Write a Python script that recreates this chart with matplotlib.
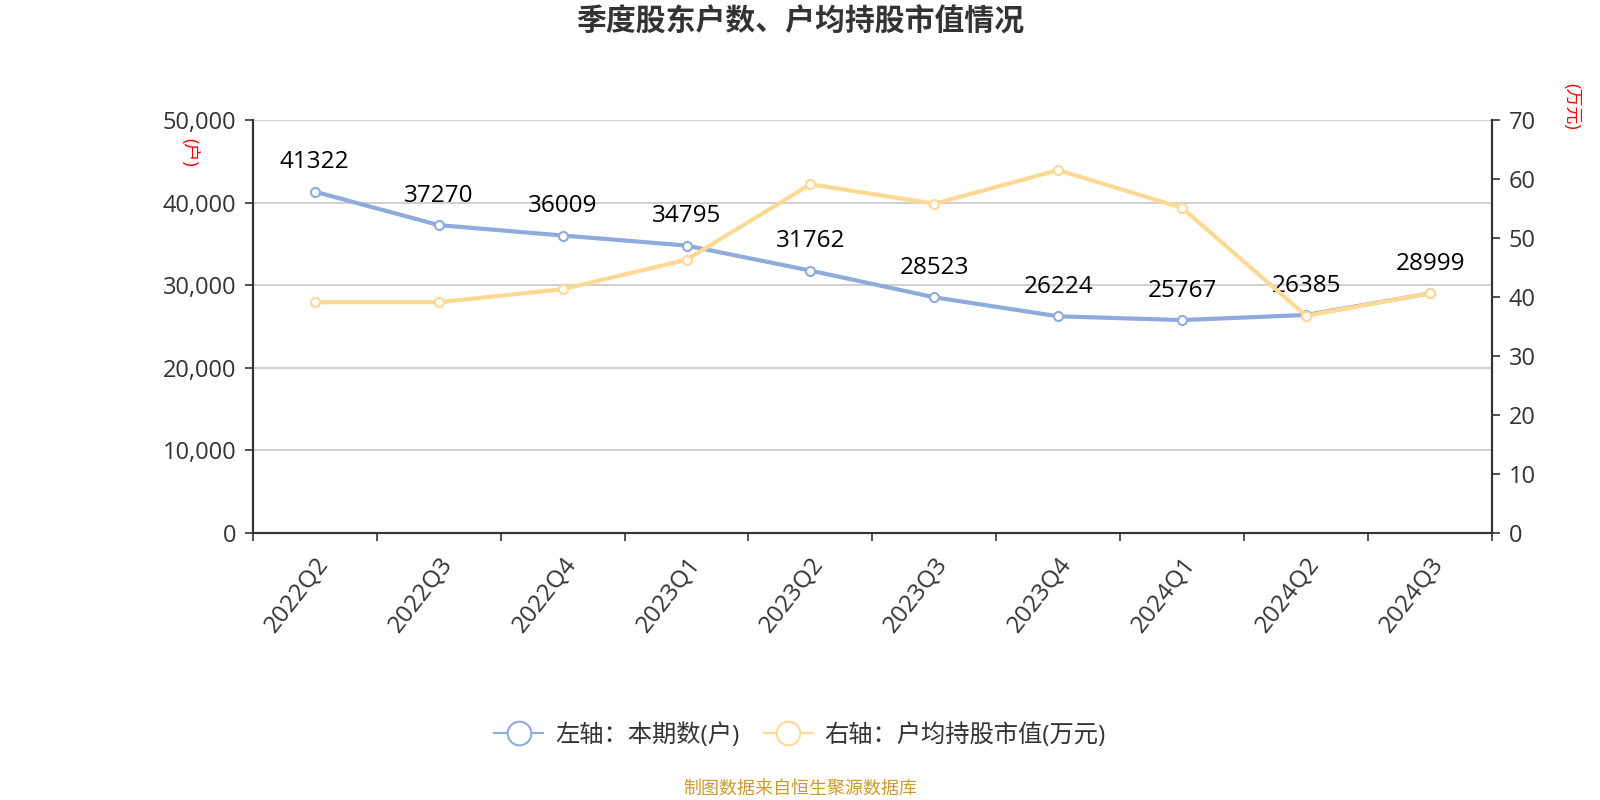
import matplotlib.pyplot as plt
from matplotlib.lines import Line2D

plt.rcParams['font.family'] = ['Open Sans', 'Noto Sans CJK SC', 'DejaVu Sans']

quarters = ['2022Q2', '2022Q3', '2022Q4', '2023Q1', '2023Q2',
            '2023Q3', '2023Q4', '2024Q1', '2024Q2', '2024Q3']
holders = [41322, 37270, 36009, 34795, 31762, 28523, 26224, 25767, 26385, 28999]
avg_value = [39.1, 39.1, 41.3, 46.3, 59.1, 55.8, 61.5, 55.1, 36.8, 40.6]

BLUE = '#8FAADC'
ORANGE = '#FFD893'
TEXT = '#333333'

fig = plt.figure(figsize=(16, 8), dpi=100)
ax = fig.add_axes([0.158, 0.334, 0.7745, 0.516])
ax2 = ax.twinx()

x = list(range(len(quarters)))
ax.plot(x, holders, color=BLUE, lw=3, marker='o', ms=6.5, mfc='white',
        mec=BLUE, mew=1.5, zorder=3)
ax2.plot(x, avg_value, color=ORANGE, lw=3, marker='o', ms=6.5, mfc='white',
         mec=ORANGE, mew=1.5, zorder=3)

for i, v in enumerate(holders):
    ax.annotate(str(v), (i, v), xytext=(0, 21), textcoords='offset points',
                ha='center', va='center', fontsize=17.5, color='black', zorder=5)

ax.set_xlim(-0.5, len(quarters) - 0.5)
ax.set_ylim(0, 50000)
ax2.set_ylim(0, 70)
ax.set_yticks(range(0, 50001, 10000))
ax.set_yticklabels([f'{t:,}' for t in range(0, 50001, 10000)])
ax2.set_yticks(range(0, 71, 10))

ax.set_xticks(x)
ax.set_xticklabels(quarters, rotation=52, ha='right', va='top',
                   rotation_mode='anchor')
ax.set_xticks([i - 0.5 for i in range(len(quarters) + 1)], minor=True)
ax.tick_params(axis='x', which='major', length=0, pad=14, labelsize=17.5, labelcolor=TEXT)
ax.tick_params(axis='x', which='minor', length=6, width=1.2, color=TEXT)
ax.tick_params(axis='y', length=6, width=1.2, color=TEXT, labelsize=17, labelcolor=TEXT, pad=6)
ax2.tick_params(axis='y', length=6, width=1.2, color=TEXT, labelsize=17, labelcolor=TEXT, pad=6)

ax.grid(axis='y', color='#C8C8C8', lw=1.2)
ax.set_axisbelow(True)
for a in (ax, ax2):
    a.spines['top'].set_visible(False)
    for s in ('left', 'right', 'bottom'):
        a.spines[s].set_color(TEXT)
        a.spines[s].set_linewidth(1.5)

fig.text(0.118, 0.809, '(户)', color='red', fontsize=13, rotation=-90,
         ha='center', va='center')
fig.text(0.982, 0.867, '(万元)', color='red', fontsize=13, rotation=-90,
         ha='center', va='center')

fig.suptitle('季度股东户数、户均持股市值情况', y=0.972, va='center', fontsize=21.5,
             fontweight='bold', color=TEXT)

handles = [
    Line2D([], [], color=BLUE, lw=1.5, marker='o', ms=17, mfc='white', mec=BLUE, mew=1.5),
    Line2D([], [], color=ORANGE, lw=1.5, marker='o', ms=17, mfc='white', mec=ORANGE, mew=1.5),
]
fig.legend(handles, ['左轴：本期数(户)', '右轴：户均持股市值(万元)'],
           loc='center', bbox_to_anchor=(0.5, 0.081), ncol=2, frameon=False,
           fontsize=17.5, labelcolor=TEXT, handlelength=2.0, columnspacing=1.0,
           handletextpad=0.5)

fig.text(0.5, 0.014, '制图数据来自恒生聚源数据库', color='#CC9A2E', fontsize=13,
         ha='center', va='center')

fig.savefig('out.png', dpi=100)
